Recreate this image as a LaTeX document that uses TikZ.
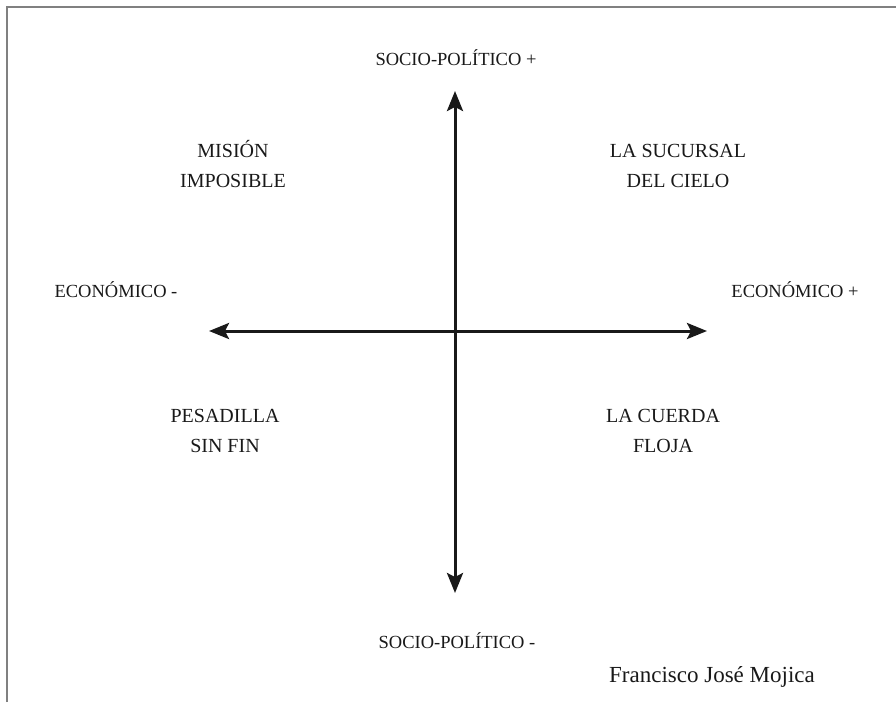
\documentclass[tikz,border=0pt]{standalone}
\usepackage{fontspec}
\setmainfont{Liberation Serif}
\usetikzlibrary{arrows.meta, positioning}
\tikzset{
  axis/.style={{Stealth[length=20pt, width=16pt, inset=4pt]}-{Stealth[length=20pt, width=16pt, inset=4pt]}, line width=3pt, draw=black!90},
  quadrant/.style={align=center, font=\fontsize{20}{30}\selectfont, anchor=base, text=black!90},
  axislabel/.style={font=\fontsize{18.5}{22}\selectfont, anchor=base, text=black!90},
  frame/.style={draw=black!50, line width=2pt}
}

\begin{document}
\begin{tikzpicture}[x=1pt, y=-1pt]
  \useasboundingbox (0,0) rectangle (896,702);
  % Frame
  \draw[frame] (7,702) -- (7,7) -- (896,7);

  % Axis ends
  \coordinate (ejeN) at (455,91);
  \coordinate (ejeS) at (455,593);
  \coordinate (ejeO) at (209,331);
  \coordinate (ejeE) at (707,331);

  % Nodes
  \node[axislabel] (sociomas) at (456,65) {SOCIO-POLÍTICO +};
  \node[axislabel] (sociomenos) at (457,648) {SOCIO-POLÍTICO -};
  \node[axislabel] (economenos) at (116,297) {ECONÓMICO -};
  \node[axislabel] (economas) at (795,297) {ECONÓMICO +};
  \node[quadrant] (mision) at (233,187) {MISIÓN\\IMPOSIBLE};
  \node[quadrant] (sucursal) at (678,187) {LA SUCURSAL\\DEL CIELO};
  \node[quadrant] (pesadilla) at (225,452) {PESADILLA\\SIN FIN};
  \node[quadrant] (cuerda) at (663,452) {LA CUERDA\\FLOJA};
  \node[anchor=base, font=\fontsize{23}{26}\selectfont, text=black!90] (autor) at (712,682) {Francisco José Mojica};

  % Connections
  \draw[axis] (ejeS) -- (ejeN);
  \draw[axis] (ejeO) -- (ejeE);
\end{tikzpicture}
\end{document}
